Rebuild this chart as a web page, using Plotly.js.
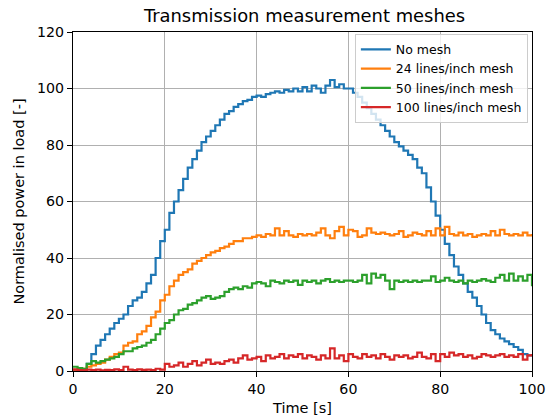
<!DOCTYPE html>
<html><head><meta charset="utf-8">
<script src="https://cdn.plot.ly/plotly-3.0.1.min.js"></script>
<style>html,body{margin:0;padding:0;background:#fff}</style>
</head><body><div id="chart" style="width:549px;height:418px"></div>
<script>
const seriesNames = ["No mesh", "24 lines/inch mesh", "50 lines/inch mesh", "100 lines/inch mesh"];
const timeS = Array.from({length: 101}, (_, i) => i);
const noMesh = [0.5,0.8,0.6,2.5,6,9,11,13,15,17,18.5,20,23,25,26,28,31,34,40,46,
50,56,60,64,68,72,75,78,81,83,85,87,89,91,92,93.5,94.5,95.5,96,97,
97.5,97,98,98.5,99,98.5,99.5,99,100,99,100.5,99,101,100,98.5,101,103,100.5,101.5,100,
100,98.5,97,95,93,91,89,87,85,83,81,79.5,78,76.5,75,72,70,65,60,55,
50,45,41,37,34,31,28,26,23,20,17,14.5,13,11.5,10.5,9.5,8.5,7.5,6,5.5,5.5];
const mesh24 = [0.5,0.3,0.8,1.5,2,2.5,3,4,5,6,6.5,9,10,10.5,13,14,16,19,21,25,
27,30,32,34,35,36,38,39,40,41,42,42.5,43.5,44,45,46,46,47,47,47.5,
48,47.5,48.5,48,50.5,48,49.5,48,47.5,48.5,48,48.5,48,49,50.5,48,47,49.5,51,48,
50,49.5,47.5,48,50.5,49,48.5,49,48.5,48,48.5,49.5,47.5,48,49,48.5,48,49.5,48,50.5,
48,51,48.5,48,49,48,48.5,47.5,48,48.5,48,49.5,48,50,48.5,48,48.5,48,49,48,48.5];
const mesh50 = [1.5,1,0.8,2.5,3.5,3,3.5,4,4.5,5,6,7,7,8,8.5,9,10,11,13,15,
17,18,20,21.5,22,23.5,24,25,26,26.5,25.5,26,26.5,28,29,29.5,29,30,29.5,31,
31.5,31,30,32,31.5,31,32,31.5,32,30.5,32,31.5,32,31,32,32.5,31.5,32,31.5,32,
32,31.5,32,34,31,34.5,33,34,32,29,32,31.5,32,31.5,32,31.5,32,32,33.5,31.5,
32,33,32,31.5,32,31,32,31.5,32,32.5,32,31.5,33,34,32,34.5,32,33.5,32,34,30];
const mesh100 = [0.5,0.3,0.2,0.5,0.3,0.5,0.2,0.4,0.3,0.6,0.3,1.5,0.5,0.3,0.6,0.4,0.5,0.3,0.8,0.5,
2.5,1.5,2,3,1.5,2.5,3.5,2,3,4,2.5,3,2.5,3.5,4,3,4.5,5.5,4,4.5,
5,3.5,5.5,4.5,5,6,4.5,5.5,5,6,4.5,5.5,5,4,5.5,4.5,8,4.5,5.5,3.5,
6,5,4.5,6,5,5.5,4.5,6,5,4,5.5,5,5.5,4.5,5,6.5,5,4.5,6,3.5,
6,5,6.5,5.5,6,5,5.5,4.5,5,6,5.5,5,5.5,6,5,5.5,5,6,4,5.5,6];
const xTicks = [0,20,40,60,80,100];
const yTicks = [0,20,40,60,80,100,120];
const colors = ["#1f77b4","#ff7f0e","#2ca02c","#d62728"];
const ys = [noMesh, mesh24, mesh50, mesh100];

const traces = ys.map((y, i) => ({
  x: timeS, y: y, name: seriesNames[i], type: "scatter", mode: "lines",
  line: {color: colors[i], width: 2.2, shape: "hv"}
}));

const axisCommon = {
  showline: true, linecolor: "#000", linewidth: 1, mirror: true,
  ticks: "outside", ticklen: 5, tickwidth: 1, tickcolor: "#000",
  showgrid: true, gridcolor: "#b0b0b0", gridwidth: 1, zeroline: false,
  tickfont: {family: "DejaVu Sans", size: 14.2, color: "#000"}
};

const layout = {
  width: 549, height: 418,
  margin: {l: 73, r: 17, t: 32, b: 47},
  paper_bgcolor: "#fff", plot_bgcolor: "#fff",
  font: {family: "DejaVu Sans", color: "#000"},
  title: {text: "Transmission measurement meshes", font: {size: 17.9, color: "#000"}, x: 0.5546, xanchor: "center", y: 0.962, yanchor: "middle"},
  xaxis: Object.assign({}, axisCommon, {range: [0, 100], tickvals: xTicks, ticktext: xTicks.map(String),
    title: {text: "Time [s]", font: {size: 14.5}, standoff: 6}}),
  yaxis: Object.assign({}, axisCommon, {range: [0, 120], tickvals: yTicks, ticktext: yTicks.map(String),
    title: {text: "Normalised power in load [-]", font: {size: 14.5}, standoff: 8}}),
  showlegend: true,
  legend: {x: 0.991, xanchor: "right", y: 0.995, yanchor: "top",
    bgcolor: "rgba(255,255,255,0.8)", bordercolor: "#cccccc", borderwidth: 1,
    font: {family: "DejaVu Sans", size: 12.5, color: "#000"}, tracegroupgap: 0, itemwidth: 30}
};

Plotly.newPlot("chart", traces, layout, {displayModeBar: false, staticPlot: true});
</script>
</body></html>
